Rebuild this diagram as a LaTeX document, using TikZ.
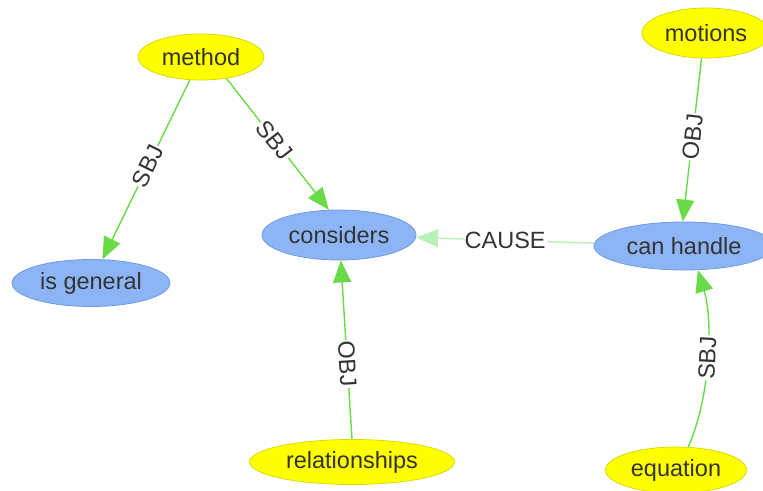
\documentclass[tikz,border=0pt]{standalone}
\usepackage{fontspec}
\setmainfont{Liberation Sans}
\usetikzlibrary{shapes.geometric,arrows.meta}
\definecolor{subjfill}{HTML}{FFFF00}
\definecolor{subjdraw}{HTML}{D9D900}
\definecolor{predfill}{HTML}{8DB5F5}
\definecolor{preddraw}{HTML}{6E9BE2}
\definecolor{edgegreen}{HTML}{6ADB48}
\definecolor{edgepale}{HTML}{B8F2B8}
\definecolor{labelgray}{HTML}{333333}
\tikzset{
  concept/.style={ellipse, inner sep=0pt, draw=subjdraw, fill=subjfill, line width=0.8pt,
    text=labelgray, font=\fontsize{23.5}{27}\selectfont},
  relation/.style={ellipse, inner sep=0pt, draw=preddraw, fill=predfill, line width=0.8pt,
    text=labelgray, font=\fontsize{23.5}{27}\selectfont},
  link/.style={draw=edgegreen, line width=1.4pt,
    -{Triangle[length=22pt,width=18pt]}},
  palelink/.style={draw=edgepale, line width=1.4pt,
    -{Triangle[length=22pt,width=18pt]}},
  tag/.style={fill=white, inner sep=1pt, text=labelgray, font=\fontsize{23.5}{27}\selectfont}
}
\begin{document}
\begin{tikzpicture}[x=1pt,y=-1pt]
\useasboundingbox (0,0) rectangle (763,490);
\fill[white] (0,0) rectangle (763,490);

% entities
\node[concept, minimum width=126pt, minimum height=46pt] (method) at (201,57) {method};
\node[concept, minimum width=128pt, minimum height=50pt] (motions) at (706,33) {motions};
\node[concept, minimum width=205pt, minimum height=45pt] (rel) at (352,462) {relationships};
\node[concept, minimum width=141pt, minimum height=46pt] (equation) at (676,470) {equation};

% predicates
\node[relation, minimum width=158pt, minimum height=47pt] (general) at (91,283) {is general};
\node[relation, minimum width=154pt, minimum height=50pt] (considers) at (339,235) {considers};
\node[relation, minimum width=180pt, minimum height=48pt] (handle) at (684,246) {can handle};

% dependencies
\draw[link] (method) -- node[tag, sloped, pos=0.48] {SBJ} (general);
\draw[link] (method.-40) -- node[tag, sloped, pos=0.47] {SBJ} (considers.112);
\draw[link] (motions.-100) -- node[tag, sloped, pos=0.48] {OBJ} (handle.93);
\draw[link] (rel.90) -- node[tag, sloped, pos=0.42] {OBJ} (considers.-86);
\draw[link] (equation.62) .. controls (711,395) and (713,320) .. node[tag, sloped, pos=0.5] {SBJ} (handle.-60);
\draw[palelink] (handle) -- node[tag, pos=0.5] {CAUSE} (considers);
\end{tikzpicture}
\end{document}
